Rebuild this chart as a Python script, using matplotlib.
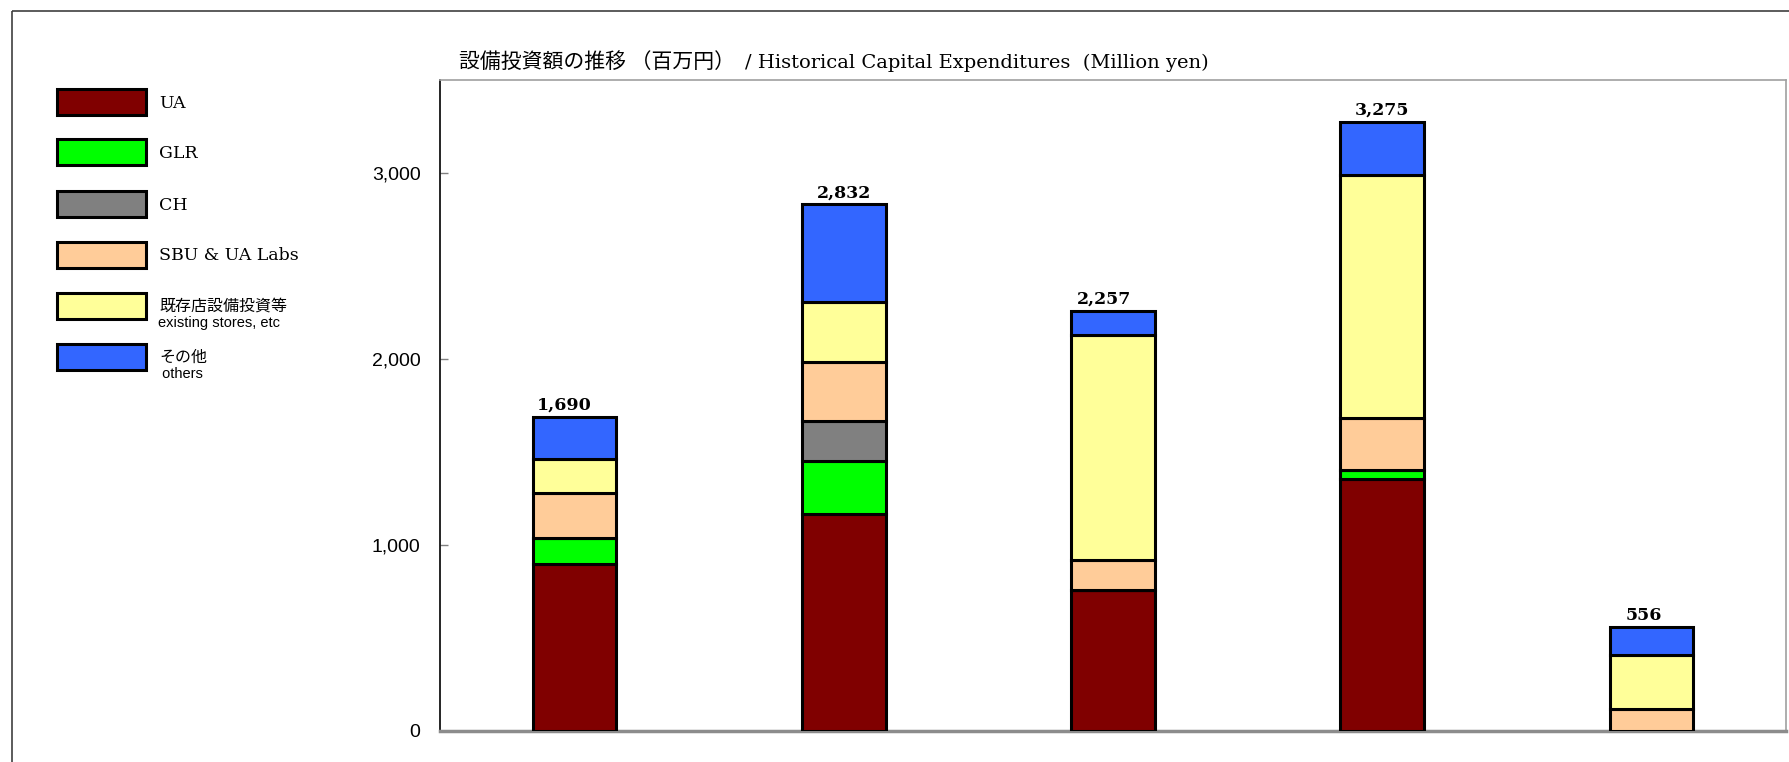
import matplotlib
matplotlib.use("Agg")
import matplotlib.pyplot as plt
from matplotlib.patches import Rectangle
from matplotlib.ticker import FuncFormatter
import numpy as np

# values (million yen), one bar per period
segments = ["UA", "GLR", "CH", "SBU & UA Labs", "既存店設備投資等\nexisting stores, etc", "その他\n others"]
ua = [897, 1168, 755, 1355, 0]
glr = [138, 283, 0, 45, 0]
ch = [0, 217, 0, 0, 0]
sbu = [242, 314, 163, 280, 115]
existing = [183, 325, 1211, 1310, 290]
others = [230, 525, 128, 285, 151]
totals = [1690, 2832, 2257, 3275, 556]

title_jp = "設備投資額の推移 （百万円）"
title_en = "/ Historical Capital Expenditures  (Million yen)"

colors = ["#800000", "#00FF00", "#808080", "#FFCC99", "#FFFF99", "#3366FF"]
label_dx = [-0.04, 0.0, -0.035, 0.0, -0.03]

W, H = 1789, 762
fig = plt.figure(figsize=(W / 100, H / 100), dpi=100)

# pixel-space overlay for the frame, title and legend
lax = fig.add_axes([0, 0, 1, 1])
lax.set_xlim(0, W)
lax.set_ylim(H, 0)
lax.axis("off")
lax.add_patch(Rectangle((12, 11), W, H, fill=False, edgecolor="#404040", linewidth=1.2))

ax = fig.add_axes([440 / W, 1 - 730.7 / H, 1346 / W, 650.7 / H])

series = [ua, glr, ch, sbu, existing, others]
x = np.arange(len(totals))
bottom = np.zeros(len(totals))
for vals, col in zip(series, colors):
    v = np.array(vals, dtype=float)
    ax.bar(x, v, width=0.31, bottom=bottom, color=col, edgecolor="black", linewidth=2.2, zorder=3)
    bottom += v

for xi, t, dx in zip(x, totals, label_dx):
    ax.text(xi + dx, t + 38, f"{t:,}", ha="center", va="baseline",
            family="DejaVu Serif", fontweight="bold", fontsize=12.5)

ax.set_xlim(-0.5, 4.5)
ax.set_ylim(0, 3500)
ax.set_yticks([0, 1000, 2000, 3000])
ax.yaxis.set_major_formatter(FuncFormatter(lambda v, p: f"{int(v):,}"))
ax.set_xticks([])
ax.tick_params(axis="y", direction="in", length=6, width=1, color="#808080",
               labelsize=14, pad=14)
for lbl in ax.get_yticklabels():
    lbl.set_family("Liberation Sans")
for side in ["top", "right"]:
    ax.spines[side].set_color("#a0a0a0")
    ax.spines[side].set_linewidth(1.2)
ax.spines["bottom"].set_color("#8c8c8c")
ax.spines["bottom"].set_linewidth(2.5)
ax.spines["left"].set_color("black")
ax.spines["left"].set_linewidth(1.2)

# title: Japanese part in gothic, English part in serif
lax.text(459, 68, title_jp, family=["Noto Sans CJK JP", "DejaVu Sans"], fontsize=15,
         va="baseline", ha="left")
lax.text(745, 68, title_en, family="DejaVu Serif", fontsize=14, va="baseline", ha="left")

# legend
rows_y = [102, 152, 204, 255, 306, 357]
for i, (name, col, yc) in enumerate(zip(segments, colors, rows_y)):
    lax.add_patch(Rectangle((57, yc - 13), 89, 26, facecolor=col, edgecolor="black", linewidth=2.2))
    if i < 4:
        lax.text(159, yc + 1, name, family="DejaVu Serif", fontsize=12.5, va="center", ha="left")
    else:
        jp, en = name.split("\n")
        lax.text(159, yc, jp, family=["Noto Sans CJK JP", "DejaVu Sans"], fontsize=11.5,
                 va="center", ha="left")
        lax.text(158, yc + 17, en, family="Liberation Sans", fontsize=10.5,
                 va="center", ha="left")

fig.savefig("out.png", dpi=100)
